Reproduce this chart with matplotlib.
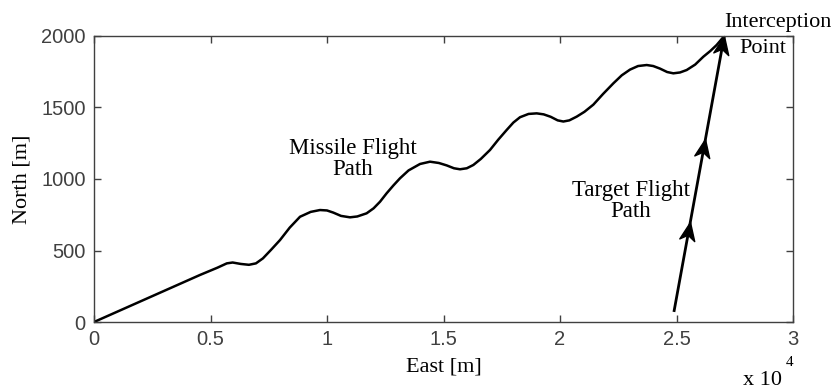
import matplotlib
matplotlib.use("Agg")
import matplotlib.pyplot as plt
from matplotlib.path import Path
from matplotlib.markers import MarkerStyle
from matplotlib.transforms import Affine2D
import numpy as np

# ---- data (metres) ----
missile_east = [0, 4550, 5300, 5700, 5950, 6300, 6650, 6950, 7250, 7600, 7983,
                8400, 8842, 9300, 9700, 10000, 10271, 10600, 10987, 11300, 11700,
                12000, 12275, 12559, 12850, 13133, 13500, 13992, 14421, 14800,
                15138, 15450, 15709, 16000, 16280, 16600, 16996, 17350, 17712,
                18000, 18284, 18650, 19000, 19300, 19600, 19900, 20143, 20400,
                20716, 21050, 21431, 21850, 22290, 22650, 23005, 23350, 23721,
                24000, 24292, 24600, 24864, 25150, 25436, 25800, 26151, 26450,
                26723, 27050]
missile_north = [0, 329, 380, 410, 416, 406, 400, 410, 445, 505, 573,
                 660, 736, 770, 783, 780, 765, 742, 732, 738, 760,
                 795, 841, 900, 955, 1005, 1060, 1105, 1121, 1112,
                 1095, 1075, 1068, 1075, 1098, 1140, 1203, 1275, 1343,
                 1395, 1432, 1455, 1459, 1452, 1435, 1410, 1402, 1410,
                 1436, 1470, 1520, 1595, 1669, 1725, 1765, 1790, 1797,
                 1790, 1772, 1748, 1739, 1745, 1762, 1800, 1855, 1895,
                 1937, 2000]

target_east = [24900, 27050]
target_north = [80, 2000]
target_arrow_north = [700, 1280, 2000]

xticks = [0, 5000, 10000, 15000, 20000, 25000, 30000]
xtick_labels = ['0', '0.5', '1', '1.5', '2', '2.5', '3']
yticks = [0, 500, 1000, 1500, 2000]
ytick_labels = ['0', '500', '1000', '1500', '2000']

SERIF = ['Liberation Serif', 'DejaVu Serif']
SANS = ['Liberation Sans', 'DejaVu Sans']
AXC = '#404040'

fig = plt.figure(figsize=(8.38, 3.92), dpi=100)
ax = fig.add_axes([94/838, 1-322/392, 699/838, 286/392])

ax.plot(missile_east, missile_north, color='black', lw=1.8,
        solid_capstyle='round', solid_joinstyle='round')
ax.plot(target_east, target_north, color='black', lw=2.0)

ax.set_xlim(0, 30000)
ax.set_ylim(0, 2000)

# arrowheads along target path (notched marker rotated to path direction)
p0 = ax.transData.transform((target_east[0], target_north[0]))
p1 = ax.transData.transform((target_east[1], target_north[1]))
ang = np.degrees(np.arctan2(p1[1] - p0[1], p1[0] - p0[0]))
head = Path([(0, 0), (-0.42, -1.0), (0, -0.72), (0.42, -1.0), (0, 0)],
            [Path.MOVETO, Path.LINETO, Path.LINETO, Path.LINETO, Path.CLOSEPOLY])
mk = MarkerStyle(head, transform=Affine2D().rotate_deg(ang - 90))
arrow_east = np.interp(target_arrow_north, target_north, target_east)
ax.plot(arrow_east, target_arrow_north, linestyle='none', marker=mk,
        markersize=26, color='black', clip_on=False)

ax.set_xticks(xticks)
ax.set_xticklabels(xtick_labels)
ax.set_yticks(yticks)
ax.set_yticklabels(ytick_labels)

ax.tick_params(direction='in', length=5, width=1, colors=AXC, top=True, right=True,
               labelsize=14.5, pad=6)
for lab in ax.get_xticklabels() + ax.get_yticklabels():
    lab.set_family(SANS)
for s in ax.spines.values():
    s.set_color(AXC)
    s.set_linewidth(1.0)

ax.set_xlabel('East [m]', family=SERIF, fontsize=16)
ax.set_ylabel('North [m]', family=SERIF, fontsize=16)
ax.xaxis.set_label_coords(0.5, -0.125)
ax.yaxis.set_label_coords(-0.089, 0.5)

ax.text(11116, 1140, 'Missile Flight\nPath', family=SERIF, fontsize=16.5,
        ha='center', va='center', linespacing=1.05)
ax.text(23048, 846, 'Target Flight\nPath', family=SERIF, fontsize=16.5,
        ha='center', va='center', linespacing=1.05)
ax.text(29336, 2063, 'Interception', family=SERIF, fontsize=16,
        ha='center', va='baseline', clip_on=False)
ax.text(28713, 1881, 'Point', family=SERIF, fontsize=16,
        ha='center', va='baseline', clip_on=False)

# x 10^4 multiplier
fig.text(782/838, 1-385/392, 'x 10', family=SERIF, fontsize=16, ha='right', va='baseline')
fig.text(786/838, 1-366/392, '4', family=SERIF, fontsize=11, ha='left', va='baseline')

fig.savefig('out.png', dpi=100)
